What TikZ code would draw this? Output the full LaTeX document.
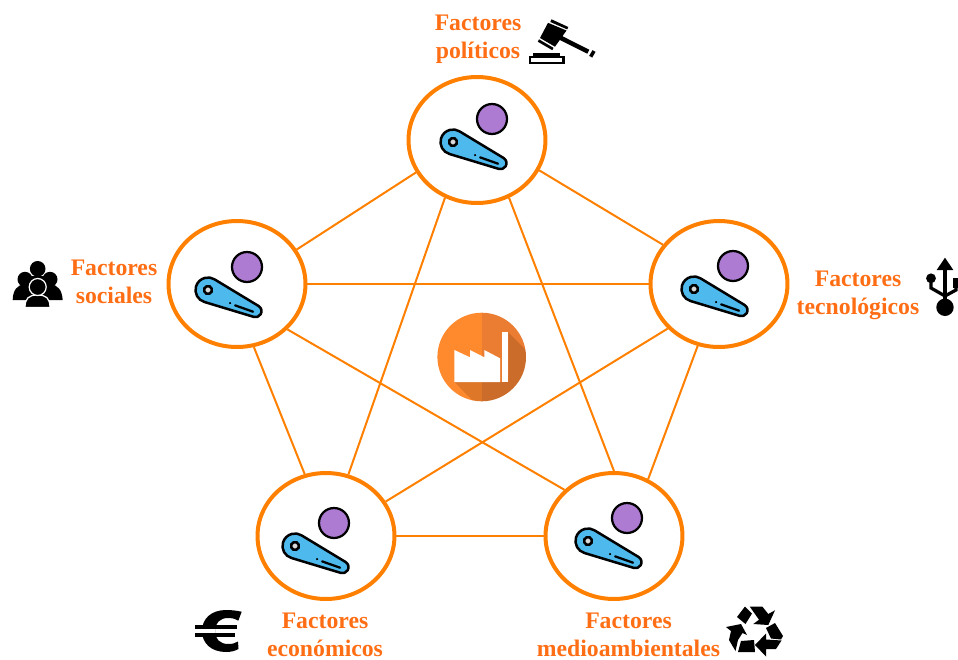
\documentclass[tikz,border=0pt]{standalone}
\usepackage{fontspec}
\setmainfont{Liberation Serif}
\usetikzlibrary{shapes.geometric}
\definecolor{anillo}{HTML}{FF8000}
\definecolor{letra}{HTML}{FF6E14}
\definecolor{azul}{HTML}{4DB9EC}
\definecolor{lila}{HTML}{AD7BD1}
\definecolor{fabclaro}{HTML}{FF8A2E}
\definecolor{fabmedio}{HTML}{EA7D32}
\tikzset{
	factor/.style={ellipse,draw=anillo,line width=0.08cm,minimum width=2.74cm,minimum height=2.52cm,inner sep=0pt},
	enlace/.style={draw=anillo,line width=0.04cm},
	etiqueta/.style={text=letra,align=center,font=\fontsize{13.5}{15.9}\selectfont\bfseries},
	bola/.pic={
		\draw[fill=lila,line width=0.045cm] (39,-23) circle (15);
		\begin{scope}[rotate=-24]
			\draw[fill=azul,line width=0.05cm,line join=round] (1.65,-12.39) -- (52.8,-5.95) arc[start angle=-82.4,end angle=82.4,radius=6] -- (1.65,12.39) arc[start angle=82.4,end angle=277.6,radius=12.5] -- cycle;
			\draw[fill=white!85!black,line width=0.05cm] (0,0) circle (4);
			\draw[line width=0.045cm,line cap=round] (31,3) -- (50,1.5);
			\fill (25.5,3) circle (1.2);
		\end{scope}
	}
}
\begin{document}
\begin{tikzpicture}[x=0.02cm,y=-0.02cm]
	\useasboundingbox (0,0) rectangle (958,660);
	\node[factor] (politicos) at (477,140) {};
	\node[factor] (sociales) at (237,284) {};
	\node[factor] (tecnologicos) at (719,284) {};
	\node[factor] (economicos) at (326,536) {};
	\node[factor] (ambientales) at (614,536) {};
	\foreach \a/\b in {politicos.208/sociales.30.7,politicos.334/tecnologicos.145.6,politicos.241.8/economicos.70.1,politicos.299.7/ambientales.90.6,sociales.0/tecnologicos.180,sociales.285.9/economicos.109,sociales.318.2/ambientales.137.4,tecnologicos.221.9/economicos.30.5,tecnologicos.251/ambientales.59.6,economicos.0/ambientales.180}
		\draw[enlace] (\a) -- (\b);
	\pic at (453,142) {bola};
	\pic at (208,290) {bola};
	\pic at (694,289) {bola};
	\pic at (295,546) {bola};
	\pic at (588,541) {bola};
	\node[etiqueta] (txtpoliticos) at (478,39.5) {Factores\\políticos};
	\node[etiqueta] (txtsociales) at (114,281.5) {Factores\\sociales};
	\node[etiqueta] (txttecnologicos) at (858,295.5) {Factores\\tecnológicos};
	\node[etiqueta] (txteconomicos) at (325,634.5) {Factores\\económicos};
	\node[etiqueta] (txtambientales) at (628.5,634.5) {Factores\\medioambientales};
	\begin{scope}
		\clip (481.7,357) circle (44.3);
		\fill[fabclaro] (430,300) rectangle (481.7,410);
		\fill[fabmedio] (481.7,300) rectangle (530,410);
		\fill[black,opacity=0.13] (454.3,382) -- (490,418) -- (548,418) -- (548,372) -- (508.3,332.3) -- (508.3,382) -- cycle;
	\end{scope}
	\fill[white] (454.3,350) -- (470,357.3) -- (470,350) -- (484.3,357.3) -- (484.3,350) -- (500,358.3) -- (500,382) -- (454.3,382) -- cycle;
	\fill[white] (502,332.3) rectangle (508.3,382);
	\fill (533,53) rectangle (560,58);
	\draw[line width=0.05cm,fill=white] (530,57) rectangle (563.5,63);
	\fill (548,22.8) -- (566.5,30.5) -- (555,46.7) -- (540,38) -- cycle;
	\fill (551.5,19.3) -- (568.3,27) -- (567.2,29.4) -- (550.3,22) -- cycle;
	\fill (539,39.3) -- (553.5,47.8) -- (552.3,50.2) -- (537.8,41.7) -- cycle;
	\draw[line width=0.09cm] (559,37) -- (588.3,51.7);
	\draw[line width=0.07cm] (590.7,56.7) -- (594,51);
	\fill (37.7,268.8) circle (7.8);
	\fill (25,279.3) circle (7.5);
	\fill (50,279.3) circle (7.5);
	\fill (28,276) rectangle (47,290);
	\fill (12.7,300) .. controls (13,290) and (17,285) .. (25,284) -- (50,284) .. controls (58,285) and (62,290) .. (62.7,300) -- cycle;
	\draw[white,fill=black,line width=0.025cm] (25,307.6) .. controls (25,298) and (29,295) .. (37.7,295) .. controls (46,295) and (50,298) .. (50,307.6) -- cycle;
	\draw[white,fill=black,line width=0.025cm] (37.7,287) circle (8.5);
	\draw[line width=0.07cm] (945,262) -- (945,305);
	\fill (945,257.7) -- (953.3,270) -- (936.7,270) -- cycle;
	\fill (945,307.3) circle (8.7);
	\fill (931,278.3) circle (4.9);
	\draw[line width=0.065cm] (931,280) -- (931,288) -- (945,296);
	\draw[line width=0.065cm] (956,285) -- (956,290) -- (945,296);
	\fill (953.3,277.7) rectangle (958,287.7);
	\fill (241.7,611.7) .. controls (236,610.5) and (231,610) .. (226,610) .. controls (211,610) and (202,619) .. (202,631) .. controls (202,643) and (211,652) .. (226,652) .. controls (231,652) and (235,651) .. (238.5,649) -- (238,641.5) .. controls (235,643.5) and (232,644) .. (228,644) .. controls (220,644) and (215,639) .. (215,631) .. controls (215,623) and (220,618) .. (228,618) .. controls (231,618) and (234,618) .. (238.3,620.7) -- cycle;
	\fill[white] (195,629.3) rectangle (215,633.3);
	\fill (195,625) rectangle (236.7,629.3);
	\fill (195,633.3) rectangle (235,637.3);
	\fill (737,617) -- (745,606.5) -- (752,613.5) -- (745.5,624) -- cycle;
	\fill (749.7,606.5) -- (762.3,606.5) -- (768.3,614) -- (775,610.3) -- (768.3,625) -- (753.3,624) -- (759,619.7) -- cycle;
	\fill (726,627) -- (741,624) -- (747,635) -- (742.5,633) -- (738,640) -- (735.5,651) -- (729,640) -- (731,631) -- cycle;
	\fill (741,641) -- (754,640) -- (755,652) -- (738,652) -- cycle;
	\fill (766,628) -- (775,623) -- (783,636) -- (781,639.5) -- (771,638.5) -- cycle;
	\fill (755,645) -- (766,633.5) -- (766,639.5) -- (781.5,640.5) -- (776,649) -- (766,649) -- (766,656.5) -- cycle;
\end{tikzpicture}
\end{document}
